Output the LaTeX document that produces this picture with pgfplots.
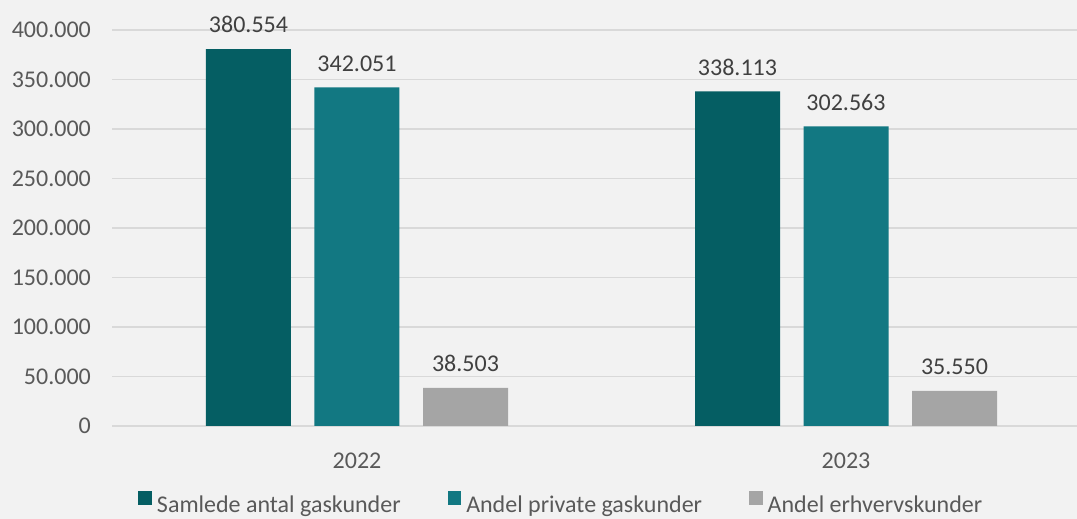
\documentclass[border=0pt]{standalone}
\usepackage{fontspec}
\setmainfont{Carlito}
\usepackage{pgfplots}
\pgfplotsset{compat=1.18}
\definecolor{bgc}{HTML}{F2F2F2}
\definecolor{gridc}{HTML}{D9D9D9}
\definecolor{samlet}{HTML}{055E63}
\definecolor{privat}{HTML}{127882}
\definecolor{erhverv}{HTML}{A5A5A5}
\definecolor{ticktxt}{HTML}{595959}
\definecolor{valtxt}{HTML}{404040}
\newcommand{\chartfont}{\fontsize{12}{14}\selectfont}
\begin{document}
\begin{tikzpicture}
% page = 1077 x 519 px, 1 px = 0.5pt, axis box lower-left at origin
\path[use as bounding box, fill=bgc] (-56.25pt,-46.5pt) rectangle (482.25pt,213pt);
\begin{axis}[
    scale only axis,
    width=482.25pt, height=198pt,
    ybar=11.75pt, bar width=42.5pt,
    xmin=-0.5, xmax=1.4724,
    ymin=0, ymax=400000,
    xtick={0,1}, xticklabels={2022,2023},
    ytick={0,50000,...,400000},
    scaled y ticks=false,
    ymajorgrids,
    grid style={gridc, line width=0.65pt},
    axis line style={draw=none},
    major tick length=0pt,
    clip=false,
    /pgf/number format/.cd, fixed, precision=0, 1000 sep={.}, assume math mode=true,
    /pgfplots/.cd,
    tick label style={font=\chartfont, text=ticktxt},
    yticklabel style={xshift=-7.3pt},
    xticklabel style={yshift=-9.8pt},
    nodes near coords={\pgfmathprintnumber[fixed,precision=0,1000 sep={.},assume math mode=true]{\pgfplotspointmeta}},
    every node near coord/.append style={font=\chartfont, text=valtxt, anchor=south, yshift=4.5pt},
    every axis plot/.append style={draw=none,
        legend image code/.code={\fill[##1] (0pt,0.4pt) rectangle (6.7pt,7.1pt);}},
    legend columns=3,
    legend style={at={(0,0)}, anchor=north west, xshift=12.75pt, yshift=-32.5pt,
        draw=none, fill=none, inner sep=0pt,
        nodes={inner sep=0pt, font=\chartfont, text=ticktxt},
        /tikz/every odd column/.append style={column sep=2.6pt},
        /tikz/every even column/.append style={column sep=23.5pt}},
]
\addplot[fill=samlet] coordinates {(0,380554) (1,338113)};
\addplot[fill=privat] coordinates {(0,342051) (1,302563)};
\addplot[fill=erhverv] coordinates {(0,38503) (1,35550)};
\legend{Samlede antal gaskunder, Andel private gaskunder, Andel erhvervskunder}
\end{axis}
\end{tikzpicture}
\end{document}
